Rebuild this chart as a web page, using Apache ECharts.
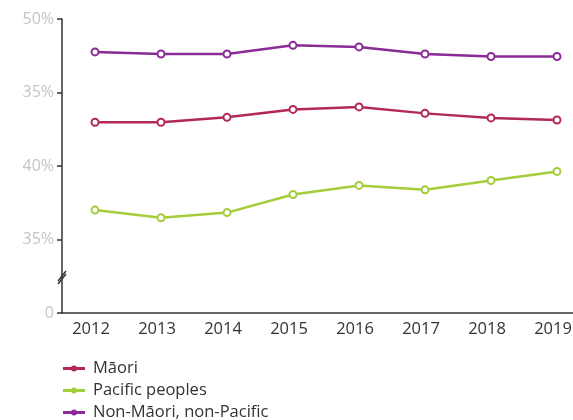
<!DOCTYPE html>
<html>
<head>
<meta charset="utf-8">
<script src="https://cdn.jsdelivr.net/npm/echarts@6/dist/echarts.min.js"></script>
<style>
  html, body { margin: 0; padding: 0; background: #fff; }
  #chart { width: 573px; height: 420px; }
</style>
</head>
<body>
<div id="chart"></div>
<script>
// Years on the horizontal axis
const years = ['2012', '2013', '2014', '2015', '2016', '2017', '2018', '2019'];

// Percentages per group
const maori = [42.98, 42.98, 43.31, 43.85, 44.02, 43.58, 43.27, 43.13];
const pacific = [37.0, 36.48, 36.83, 38.06, 38.68, 38.38, 39.01, 39.63];
const nonMaoriNonPacific = [47.76, 47.62, 47.62, 48.21, 48.1, 47.62, 47.45, 47.45];

// Tick labels on the (broken) vertical axis, bottom to top
const yTicks = [30, 35, 40, 45, 50];
const yTickLabels = ['0', '35%', '40%', '35%', '50%'];

const FONT = 'Open Sans';
const colors = { maori: '#b3285a', pacific: '#a3cd39', other: '#8a2b97' };

const chart = echarts.init(document.getElementById('chart'));

function lineSeries(name, data, color) {
  return {
    name: name,
    type: 'line',
    data: data,
    symbol: 'emptyCircle',
    symbolSize: 7,
    lineStyle: { color: color, width: 2.5 },
    itemStyle: { color: color, borderColor: color, borderWidth: 2 },
    emphasis: { disabled: true },
    z: 3
  };
}

chart.setOption({
  animation: false,
  grid: { left: 62, top: 19, right: -17, height: 294, outerBoundsMode: 'none', containLabel: false },
  legend: {
    orient: 'vertical',
    left: 58,
    top: 355,
    height: 70,
    itemWidth: 20,
    itemHeight: 5,
    itemGap: 5,
    // short line with a small dot in the middle
    icon: 'path://M0,2.2h20v1.2H0z M8,2.8a2,2 0 1,0 4,0a2,2 0 1,0 -4,0z',
    textStyle: { fontFamily: FONT, fontSize: 16.5, color: '#333', padding: [0, 0, 0, 4] },
    data: ['Māori', 'Pacific peoples', 'Non-Māori, non-Pacific'],
    selectedMode: false
  },
  xAxis: {
    type: 'category',
    data: years,
    boundaryGap: true,
    axisLine: { lineStyle: { color: '#333', width: 1.5 } },
    axisTick: { show: false },
    axisLabel: { fontFamily: FONT, fontSize: 16.5, color: '#333', margin: 8, padding: [0, 8, 0, 0] }
  },
  yAxis: {
    type: 'value',
    min: 30,
    max: 50,
    interval: 5,
    axisLine: { show: true, lineStyle: { color: '#333', width: 1.5 } },
    axisTick: { show: true, length: 5, lineStyle: { color: '#333', width: 1.5 } },
    splitLine: { show: false },
    axisLabel: {
      fontFamily: FONT, fontSize: 16, color: '#c4c4c4', margin: 8,
      formatter: v => yTickLabels[yTicks.indexOf(v)]
    }
  },
  series: [
    lineSeries('Māori', maori, colors.maori),
    lineSeries('Pacific peoples', pacific, colors.pacific),
    lineSeries('Non-Māori, non-Pacific', nonMaoriNonPacific, colors.other)
  ]
});

// Axis break marker drawn across the vertical axis between 0 and 35%
const [, by] = chart.convertToPixel({ xAxisIndex: 0, yAxisIndex: 0 }, [0, 32.45]);
const axisX = chart.convertToPixel({ xAxisIndex: 0 }, 0) - 33;
chart.setOption({
  graphic: [
    { type: 'line', shape: { x1: axisX - 4, y1: by + 4, x2: axisX + 4, y2: by - 6 }, style: { stroke: '#333', lineWidth: 1.5 }, z: 10 },
    { type: 'line', shape: { x1: axisX - 4, y1: by + 7, x2: axisX + 4, y2: by - 3 }, style: { stroke: '#333', lineWidth: 1.5 }, z: 10 }
  ]
});
</script>
</body>
</html>
